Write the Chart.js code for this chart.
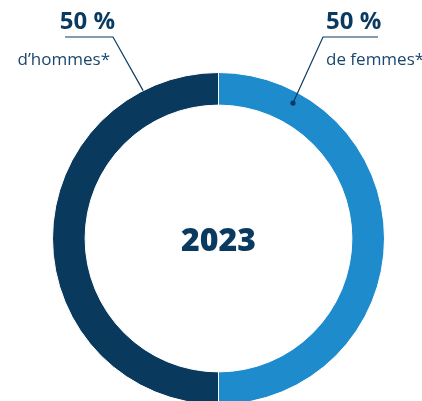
<!DOCTYPE html>
<html>
<head>
<meta charset="utf-8">
<script src="https://cdn.jsdelivr.net/npm/chart.js@4"></script>
<style>
    html, body { margin: 0; padding: 0; background: #fff; overflow: hidden; }
    #wrap { width: 422px; height: 401px; overflow: hidden; }
</style>
</head>
<body>
<div id="wrap">
    <canvas id="genderChart" width="422" height="440"></canvas>
</div>
<script>
// Données du graphique
const categories = ['Femmes', 'Hommes'];
const shares = [50, 50];
const subLabels = ['de femmes*', 'd\u2019hommes*'];
const yearLabel = '2023';

const colors = ['#1e8bcd', '#093a5e'];
const navy = '#0a3a5f';

// Dessine l'année au centre et les étiquettes avec traits de rappel
const labelsPlugin = {
    id: 'labelsPlugin',
    afterDraw(chart) {
        const ctx = chart.ctx;
        const arcs = chart.getDatasetMeta(0).data;

        ctx.save();
        ctx.fillStyle = navy;
        ctx.textAlign = 'center';
        ctx.textBaseline = 'alphabetic';
        ctx.font = '800 32px "Open Sans"';
        const c = arcs[0].getProps(['x', 'y']);
        ctx.fillText(yearLabel, c.x, c.y + 12);

        // femmes : point dans l'anneau, côté droit
        const f = arcs[0].getProps(['x', 'y', 'startAngle', 'endAngle', 'innerRadius', 'outerRadius']);
        const fa = f.startAngle + 0.16 * (f.endAngle - f.startAngle);
        const fr = f.innerRadius + 0.65 * (f.outerRadius - f.innerRadius);
        const fx = f.x + fr * Math.cos(fa);
        const fy = f.y + fr * Math.sin(fa);

        // hommes : bord extérieur, côté gauche
        const h = arcs[1].getProps(['x', 'y', 'startAngle', 'endAngle', 'innerRadius', 'outerRadius']);
        const ha = h.startAngle + 0.85 * (h.endAngle - h.startAngle);
        const hx = h.x + h.outerRadius * Math.cos(ha);
        const hy = h.y + h.outerRadius * Math.sin(ha);

        ctx.strokeStyle = navy;
        ctx.lineWidth = 1.2;
        ctx.beginPath();
        ctx.moveTo(378, 37);
        ctx.lineTo(323, 37);
        ctx.lineTo(fx, fy);
        ctx.stroke();
        ctx.beginPath();
        ctx.arc(fx, fy, 2.6, 0, Math.PI * 2);
        ctx.fill();

        ctx.beginPath();
        ctx.moveTo(65, 37);
        ctx.lineTo(113, 37);
        ctx.lineTo(hx, hy);
        ctx.stroke();

        ctx.font = 'bold 24px "Open Sans"';
        ctx.textAlign = 'left';
        ctx.fillText(shares[0] + ' %', 326, 29);
        ctx.textAlign = 'right';
        ctx.fillText(shares[1] + ' %', 115, 29);

        ctx.fillStyle = '#1a476d';
        ctx.font = '17px "Open Sans"';
        ctx.textAlign = 'left';
        ctx.fillText(subLabels[0], 326, 65);
        ctx.textAlign = 'right';
        ctx.fillText(subLabels[1], 110, 65);
        ctx.restore();
    }
};

new Chart(document.getElementById('genderChart'), {
    type: 'doughnut',
    data: {
        labels: categories,
        datasets: [{
            data: shares,
            backgroundColor: colors,
            borderColor: '#ffffff',
            borderWidth: 1
        }]
    },
    options: {
        responsive: false,
        animation: false,
        radius: 166,
        cutout: 133,
        layout: {
            padding: { left: 52.5, top: 72.5, right: 37.5, bottom: 35.5 }
        },
        plugins: {
            legend: { display: false },
            tooltip: { enabled: false }
        }
    },
    plugins: [labelsPlugin]
});
</script>
</body>
</html>
